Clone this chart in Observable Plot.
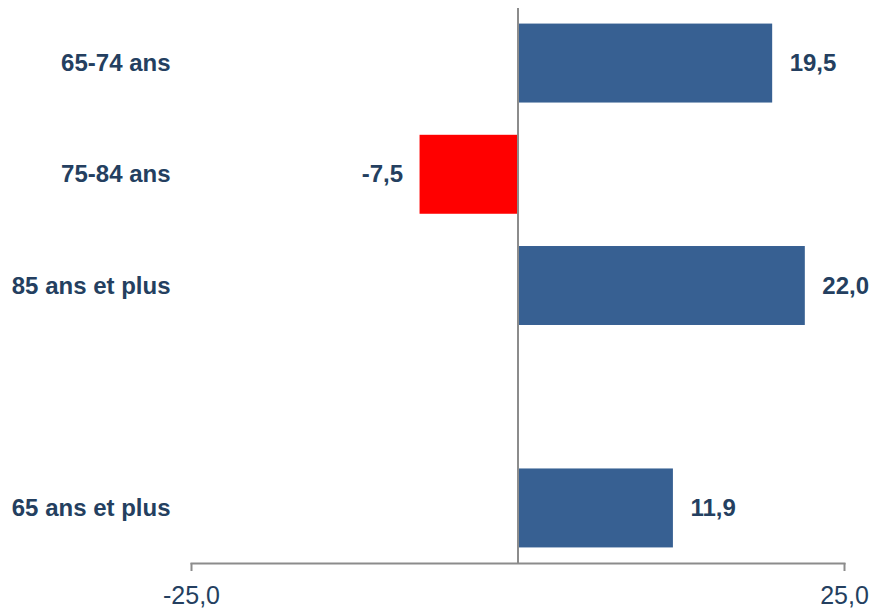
<!DOCTYPE html>
<html>
<head>
<meta charset="utf-8">
<script src="https://cdn.jsdelivr.net/npm/d3@7"></script>
<script src="https://cdn.jsdelivr.net/npm/@observablehq/plot@0.6"></script>
<style>
  html, body { margin: 0; padding: 0; background: #fff; }
  #chart { width: 872px; height: 609px; }
</style>
</head>
<body>
<div id="chart"></div>
<script>
const categories = ["65-74 ans", "75-84 ans", "85 ans et plus", "65 ans et plus"];
const values = [19.5, -7.5, 22.0, 11.9];
const yDomain = ["65-74 ans", "75-84 ans", "85 ans et plus", " ", "65 ans et plus"];
const xTicks = [-25, 25];

const data = categories.map((c, i) => ({cat: c, value: values[i]}));
const fmt = v => v.toFixed(1).replace(".", ",");
const textColor = "#243f60";

const chart = Plot.plot({
  width: 872,
  height: 609,
  marginTop: 8,
  marginBottom: 46,
  marginLeft: 191,
  marginRight: 28,
  style: {fontFamily: "'Liberation Sans', Arial, sans-serif", background: "#fff"},
  x: {domain: [-25, 25]},
  y: {domain: yDomain, paddingInner: 0.29, paddingOuter: 0.14, round: false},
  color: {type: "identity"},
  marks: [
    Plot.barX(data, {x: "value", y: "cat", fill: d => d.value < 0 ? "#ff0000" : "#376092"}),
    Plot.ruleX([0], {stroke: "#8c8c8c", strokeWidth: 2}),
    Plot.frame({anchor: "bottom", stroke: "#8c8c8c", strokeWidth: 2}),
    Plot.axisX({ticks: xTicks, tickFormat: fmt, tickSize: 8, tickPadding: 15, stroke: "#8c8c8c", strokeWidth: 2, fill: textColor, fontSize: 25, label: null}),
    Plot.axisY({tickSize: 0, tickPadding: 21, fill: textColor, fontSize: 24, fontWeight: "bold", label: null}),
    Plot.text(data.filter(d => d.value >= 0), {x: "value", y: "cat", text: d => fmt(d.value), textAnchor: "start", dx: 17, fill: textColor, fontSize: 24, fontWeight: "bold"}),
    Plot.text(data.filter(d => d.value < 0), {x: "value", y: "cat", text: d => fmt(d.value), textAnchor: "end", dx: -17, fill: textColor, fontSize: 24, fontWeight: "bold"})
  ]
});
document.getElementById("chart").append(chart);
</script>
</body>
</html>
